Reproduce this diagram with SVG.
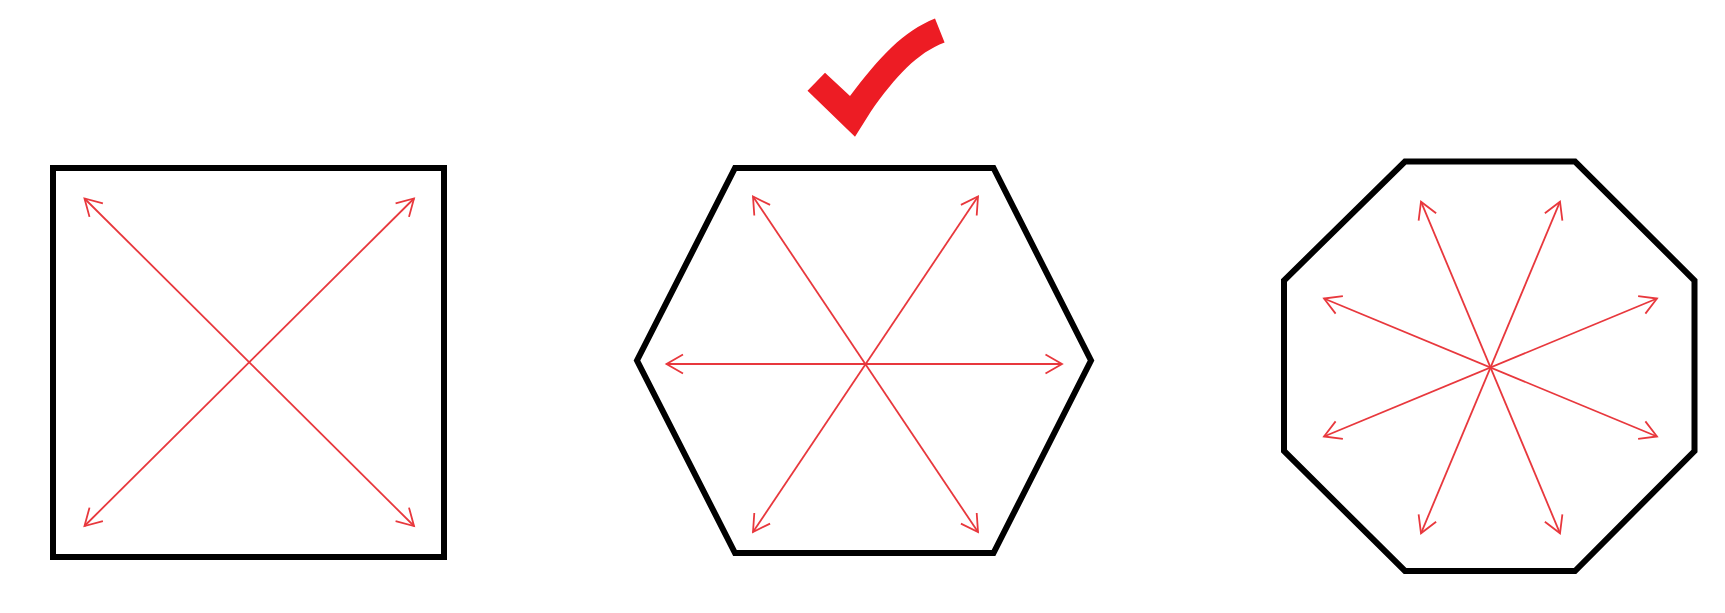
<svg xmlns="http://www.w3.org/2000/svg" width="1725" height="613" viewBox="0 0 1725 613">
  <style>
    .shape { fill: none; stroke: #000; stroke-width: 6; stroke-linejoin: miter; }
    .arrow { fill: none; stroke: #e8383d; stroke-width: 1.8; marker-start: url(#head); marker-end: url(#head); }
    .check { fill: #ed1c24; stroke: none; }
  </style>
  <defs>
    <marker id="head" markerUnits="userSpaceOnUse" markerWidth="40" markerHeight="40" viewBox="-20 -20 40 40" refX="0" refY="0" orient="auto-start-reverse" overflow="visible">
      <path d="M-16.5,-9.5 L0,0 L-16.5,9.5" fill="none" stroke="#e8383d" stroke-width="1.8" stroke-linejoin="miter"/>
    </marker>
  </defs>
  <rect width="1725" height="613" fill="#fff"/>
  <g id="square">
    <rect class="shape" x="53" y="168" width="391" height="389"/>
  </g>
  <g id="hexagon">
    <polygon class="shape" points="735,168 993.5,168 1091,360.5 993.5,553 735,553 637,360.5"/>
  </g>
  <g id="octagon">
    <polygon class="shape" points="1405,161.5 1575,161.5 1694.5,280.5 1694.5,451 1575,571 1405,571 1284,451 1284,280.5"/>
  </g>
  <g id="checkmark">
    <path class="check" d="M807.5,90.7 L825,72.7 L850,96 C880,56.4 903,31.3 935,18.5 L944.6,42.6 C917.3,52.9 896,76 870.7,111.7 L855,136.7 Z"/>
  </g>
  <g id="connectors">
    <line class="arrow" x1="84.5" y1="198.5" x2="414" y2="526"/>
    <line class="arrow" x1="414" y1="198.5" x2="84.5" y2="526"/>
    <line class="arrow" x1="666.5" y1="364" x2="1062" y2="364"/>
    <line class="arrow" x1="753" y1="196.5" x2="978" y2="532"/>
    <line class="arrow" x1="978" y1="196.5" x2="753" y2="532"/>
    <line class="arrow" x1="1421" y1="201.7" x2="1560" y2="533.3"/>
    <line class="arrow" x1="1560" y1="201.7" x2="1421" y2="533.3"/>
    <line class="arrow" x1="1324" y1="298.5" x2="1657" y2="436.5"/>
    <line class="arrow" x1="1657" y1="298.5" x2="1324" y2="436.5"/>
  </g>
</svg>
